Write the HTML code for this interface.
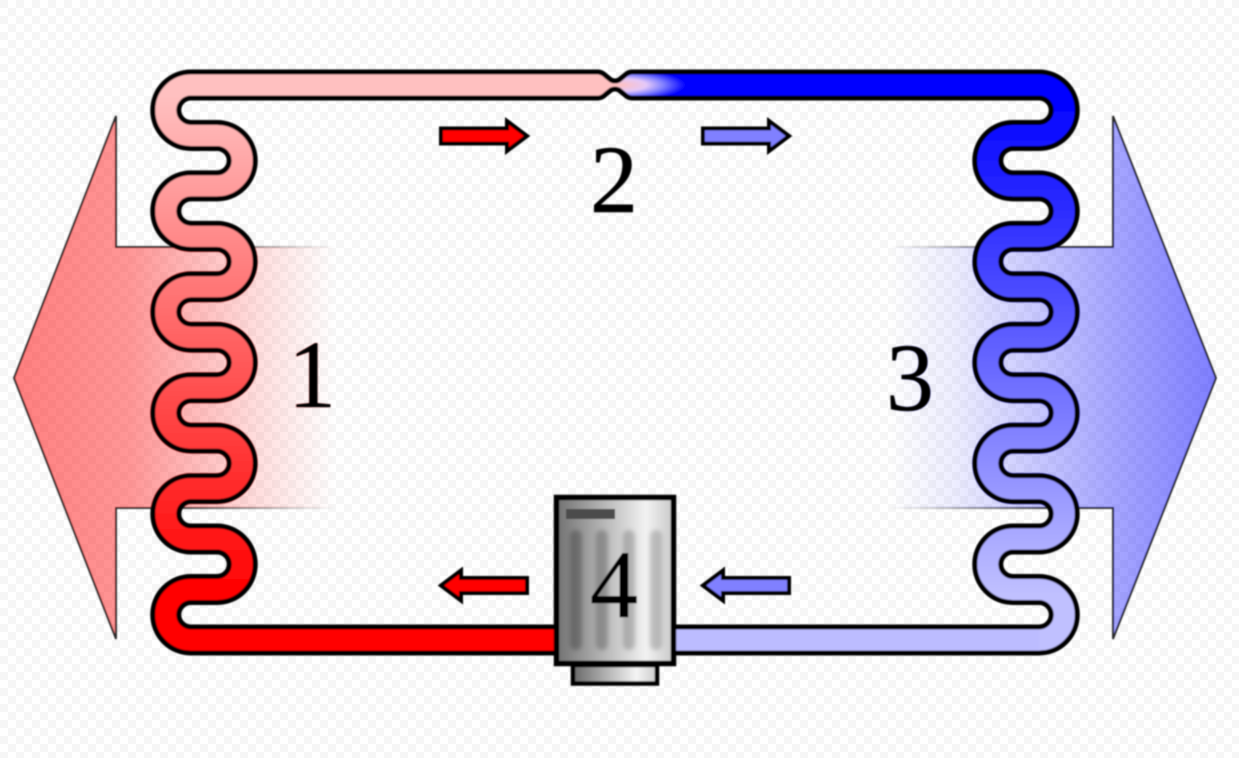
<!DOCTYPE html>
<html>
<head>
<meta charset="utf-8">
<style>
html,body{margin:0;padding:0;background:#fff;width:1239px;height:758px;overflow:hidden}
svg{display:block}
text{font-family:"Liberation Serif",serif;font-size:96px;fill:#000;stroke:#000;stroke-width:.5;text-anchor:middle}
</style>
</head>
<body>
<svg width="1239" height="758" viewBox="0 0 1239 758" xmlns="http://www.w3.org/2000/svg">
<defs>
<pattern id="chk" width="16" height="16" patternUnits="userSpaceOnUse">
<rect width="16" height="16" fill="#fff"/>
<rect width="8" height="8" fill="#f6f6f6"/>
<rect x="8" y="8" width="8" height="8" fill="#f6f6f6"/>
</pattern>
<filter id="soft" x="-5%" y="-5%" width="110%" height="110%"><feGaussianBlur stdDeviation="0.9"/></filter>
<filter id="soft2" x="-50%" y="-10%" width="200%" height="120%"><feGaussianBlur stdDeviation="2"/></filter>
<linearGradient id="redCoil" gradientUnits="userSpaceOnUse" x1="0" y1="95" x2="0" y2="595">
<stop offset="0" stop-color="#ffc0c0"/><stop offset="1" stop-color="#ff0000"/>
</linearGradient>
<linearGradient id="blueCoil" gradientUnits="userSpaceOnUse" x1="0" y1="95" x2="0" y2="595">
<stop offset="0" stop-color="#0000ff"/><stop offset="1" stop-color="#c0c0ff"/>
</linearGradient>
<radialGradient id="noz" gradientUnits="userSpaceOnUse" cx="0" cy="0" r="1" gradientTransform="translate(620 85) scale(66 16)">
<stop offset="0" stop-color="#ffc0c0"/><stop offset=".4" stop-color="#e4c8f8"/><stop offset=".66" stop-color="#8080ff"/><stop offset="1" stop-color="#0000ff"/>
</radialGradient>
<linearGradient id="lFill" gradientUnits="userSpaceOnUse" x1="14" y1="0" x2="335" y2="0">
<stop offset="0" stop-color="#ff0000" stop-opacity=".5"/>
<stop offset=".36" stop-color="#ff0000" stop-opacity=".41"/>
<stop offset=".76" stop-color="#ff0000" stop-opacity=".13"/>
<stop offset="1" stop-color="#ff0000" stop-opacity="0"/>
</linearGradient>
<linearGradient id="rFill" gradientUnits="userSpaceOnUse" x1="1216" y1="0" x2="890" y2="0">
<stop offset="0" stop-color="#0000ff" stop-opacity=".5"/>
<stop offset=".35" stop-color="#0000ff" stop-opacity=".33"/>
<stop offset=".8" stop-color="#0000ff" stop-opacity=".07"/>
<stop offset="1" stop-color="#0000ff" stop-opacity="0"/>
</linearGradient>
<linearGradient id="lStroke" gradientUnits="userSpaceOnUse" x1="14" y1="0" x2="335" y2="0">
<stop offset="0" stop-color="#222"/><stop offset=".5" stop-color="#222"/><stop offset="1" stop-color="#222" stop-opacity="0"/>
</linearGradient>
<linearGradient id="rStroke" gradientUnits="userSpaceOnUse" x1="1216" y1="0" x2="890" y2="0">
<stop offset="0" stop-color="#222"/><stop offset=".5" stop-color="#222"/><stop offset="1" stop-color="#222" stop-opacity="0"/>
</linearGradient>
<linearGradient id="body" gradientUnits="userSpaceOnUse" x1="556" y1="0" x2="674" y2="0">
<stop offset="0" stop-color="#707070"/><stop offset=".3" stop-color="#a4a4a4"/><stop offset=".76" stop-color="#f2f2f2"/><stop offset="1" stop-color="#c8c8c8"/>
</linearGradient>
<linearGradient id="foot" gradientUnits="userSpaceOnUse" x1="572" y1="0" x2="658" y2="0">
<stop offset="0" stop-color="#666"/><stop offset=".75" stop-color="#f4f4f4"/><stop offset="1" stop-color="#c8c8c8"/>
</linearGradient>
</defs>

<rect width="1239" height="758" fill="url(#chk)"/>

<g filter="url(#soft)">
<!-- big arrows -->
<path d="M335 247H116V116L14 378L116 639V508H335Z" fill="url(#lFill)"/>
<path d="M335 247H116V116L14 378L116 639V508H335" fill="none" stroke="url(#lStroke)" stroke-width="1.8"/>
<path d="M890 247H1113V116L1216 378L1113 639V508H890Z" fill="url(#rFill)"/>
<path d="M890 247H1113V116L1216 378L1113 639V508H890" fill="none" stroke="url(#rStroke)" stroke-width="1.8"/>

<!-- left coil -->
<path d="M595 85H191A25.225 25.225 0 0 0 191 135.45H217A25.225 25.225 0 0 1 217 185.9H191A25.225 25.225 0 0 0 191 236.35H217A25.225 25.225 0 0 1 217 286.8H191A25.225 25.225 0 0 0 191 337.25H217A25.225 25.225 0 0 1 217 387.7H191A25.225 25.225 0 0 0 191 438.15H217A25.225 25.225 0 0 1 217 488.6H191A25.225 25.225 0 0 0 191 539.05H217A25.225 25.225 0 0 1 217 589.5H191A25.225 25.225 0 0 0 191 640H560" fill="none" stroke="#000" stroke-width="31"/>
<path d="M595 85H191A25.225 25.225 0 0 0 191 135.45H217A25.225 25.225 0 0 1 217 185.9H191A25.225 25.225 0 0 0 191 236.35H217A25.225 25.225 0 0 1 217 286.8H191A25.225 25.225 0 0 0 191 337.25H217A25.225 25.225 0 0 1 217 387.7H191A25.225 25.225 0 0 0 191 438.15H217A25.225 25.225 0 0 1 217 488.6H191A25.225 25.225 0 0 0 191 539.05H217A25.225 25.225 0 0 1 217 589.5H191A25.225 25.225 0 0 0 191 640H560" fill="none" stroke="url(#redCoil)" stroke-width="21"/>

<!-- right coil -->
<path d="M680 85H1039A25.225 25.225 0 0 1 1039 135.45H1013A25.225 25.225 0 0 0 1013 185.9H1039A25.225 25.225 0 0 1 1039 236.35H1013A25.225 25.225 0 0 0 1013 286.8H1039A25.225 25.225 0 0 1 1039 337.25H1013A25.225 25.225 0 0 0 1013 387.7H1039A25.225 25.225 0 0 1 1039 438.15H1013A25.225 25.225 0 0 0 1013 488.6H1039A25.225 25.225 0 0 1 1039 539.05H1013A25.225 25.225 0 0 0 1013 589.5H1039A25.225 25.225 0 0 1 1039 640H670" fill="none" stroke="#000" stroke-width="31"/>
<path d="M680 85H1039A25.225 25.225 0 0 1 1039 135.45H1013A25.225 25.225 0 0 0 1013 185.9H1039A25.225 25.225 0 0 1 1039 236.35H1013A25.225 25.225 0 0 0 1013 286.8H1039A25.225 25.225 0 0 1 1039 337.25H1013A25.225 25.225 0 0 0 1013 387.7H1039A25.225 25.225 0 0 1 1039 438.15H1013A25.225 25.225 0 0 0 1013 488.6H1039A25.225 25.225 0 0 1 1039 539.05H1013A25.225 25.225 0 0 0 1013 589.5H1039A25.225 25.225 0 0 1 1039 640H670" fill="none" stroke="url(#blueCoil)" stroke-width="21"/>
<path d="M1039 640H670" fill="none" stroke="#bcbcff" stroke-width="21"/>
<path d="M560 640H191" fill="none" stroke="#ff0000" stroke-width="21"/>

<!-- nozzle -->
<path d="M686 72H632Q628 72 624 76L619 80Q615 82 611 80V90Q615 88 619 90L624 94Q628 98 632 98H686Z" fill="url(#noz)"/>
<path d="M588 72H598Q602 72 606 76L611 80Q615 82 618 81V89Q615 88 611 90L606 94Q602 98 598 98H588Z" fill="#ffc0c0"/>
<path d="M588 72H598Q602 72 606 76L611 80Q615 82 619 80L624 76Q628 72 632 72H690" fill="none" stroke="#000" stroke-width="5"/>
<path d="M588 98H598Q602 98 606 94L611 90Q615 88 619 90L624 94Q628 98 632 98H690" fill="none" stroke="#000" stroke-width="5"/>

<!-- small arrows -->
<path d="M441 128.500H507V121L527 136L507 151V143.500H441Z" fill="#ff0000" stroke="#000" stroke-width="4"/>
<path d="M703 128.500H769V121L789 136L769 151V143.500H703Z" fill="#8080ff" stroke="#000" stroke-width="4"/>
<path d="M527 578H461V570.500L441 585.500L461 600.500V593H527Z" fill="#ff0000" stroke="#000" stroke-width="4"/>
<path d="M789 578H723V570.500L703 585.500L723 600.500V593H789Z" fill="#8080ff" stroke="#000" stroke-width="4"/>

<!-- compressor -->
<rect x="573" y="665" width="84" height="18.500" fill="url(#foot)" stroke="#000" stroke-width="4.500"/>
<rect x="556.500" y="497.500" width="117" height="166" fill="url(#body)" stroke="#000" stroke-width="5.500"/>
<g filter="url(#soft2)" fill="#000">
<rect x="570" y="530" width="12" height="120" rx="6" fill-opacity=".24"/>
<rect x="596" y="530" width="12" height="120" rx="6" fill-opacity=".22"/>
<rect x="623" y="530" width="12" height="120" rx="6" fill-opacity=".2"/>
<rect x="650" y="530" width="12" height="120" rx="6" fill-opacity=".18"/>
</g>
<rect x="566" y="509" width="49" height="10" fill="#4c4c4c"/>

<!-- labels -->
<text x="312" y="407">1</text>
<text x="614" y="212">2</text>
<text x="910" y="410">3</text>
<text x="614" y="617">4</text>
</g>
</svg>
</body>
</html>
